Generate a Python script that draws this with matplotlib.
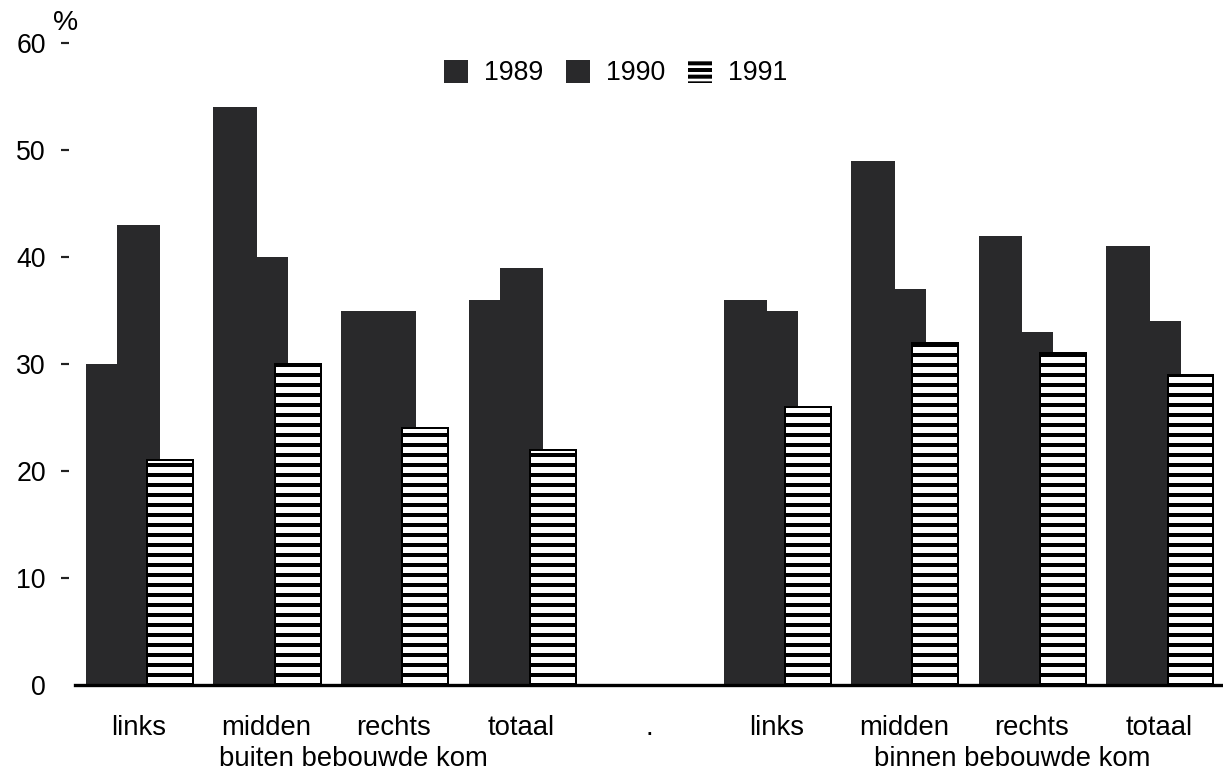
import numpy as np
import matplotlib
matplotlib.use("Agg")
import matplotlib.pyplot as plt
from matplotlib.patches import Rectangle

# data
categories = ["links", "midden", "rechts", "totaal", ".",
              "links", "midden", "rechts", "totaal"]
years = ["1989", "1990", "1991"]
v1989 = [30, 54, 35, 36, np.nan, 36, 49, 42, 41]
v1990 = [43, 40, 35, 39, np.nan, 35, 37, 33, 34]
v1991 = [21, 30, 24, 22, np.nan, 26, 32, 31, 29]
groups = ["buiten bebouwde kom", "binnen bebouwde kom"]
group_pos = [1.68, 6.85]
yticks = [0, 10, 20, 30, 40, 50, 60]

plt.rcParams["font.family"] = ["Liberation Sans", "DejaVu Sans"]
plt.rcParams["hatch.linewidth"] = 2.4

DARK = "#29292b"
DPI = 120
fig = plt.figure(figsize=(1223 / DPI, 782 / DPI), dpi=DPI, facecolor="white")
ax = fig.add_axes([75 / 1223, 97 / 782, 1148 / 1223, 642 / 782])

# spine position first: it resets the ticks
for s in ["top", "right", "left"]:
    ax.spines[s].set_visible(False)
ax.spines["left"].set_position(("outward", 3.6))
ax.spines["bottom"].set_linewidth(2)
ax.spines["bottom"].set_color("black")

x = np.arange(len(categories))
ax.bar(x - 0.245, v1989, width=0.34, color=DARK, edgecolor="none", zorder=2)
ax.bar(x, v1990, width=0.34, color=DARK, edgecolor="none", zorder=2.5)
ax.bar(x + 0.245, v1991, width=0.36, color="white", edgecolor="black",
       hatch="--", linewidth=1.2, zorder=3)

ax.set_xlim(-0.5, 8.5)
ax.set_ylim(0, 60)
ax.set_xticks(x)
ax.set_xticklabels(categories)
ax.set_yticks(yticks)
ax.set_yticklabels([str(t) for t in yticks])

ax.tick_params(axis="x", length=0, pad=18, labelsize=16.5)
ax.tick_params(axis="y", length=4.8, width=1.3, pad=9, color="#222222",
               labelsize=16)
ax.yaxis.get_major_ticks()[0].tick1line.set_visible(False)

# group labels under the category labels
for name, gx in zip(groups, group_pos):
    ax.text(gx, -0.116, name, transform=ax.get_xaxis_transform(),
            ha="center", va="center", fontsize=16.5)

fig.text(66 / 1223, 1 - 23 / 782, "%", ha="center", va="center", fontsize=17)

handles = [
    Rectangle((0, 0), 1, 1, facecolor=DARK, edgecolor="none"),
    Rectangle((0, 0), 1, 1, facecolor=DARK, edgecolor="none"),
    Rectangle((0, 0), 1, 1, facecolor="white", edgecolor="black",
              hatch="---", linewidth=0),
]
fig.legend(handles, years, loc="center", ncol=3, frameon=False,
           bbox_to_anchor=(616 / 1223, 1 - 73 / 782),
           bbox_transform=fig.transFigure, fontsize=16,
           handlelength=0.9, handleheight=0.95, handletextpad=0.6,
           columnspacing=0.85, borderpad=0)

fig.savefig("out.png", dpi=DPI, facecolor="white")
